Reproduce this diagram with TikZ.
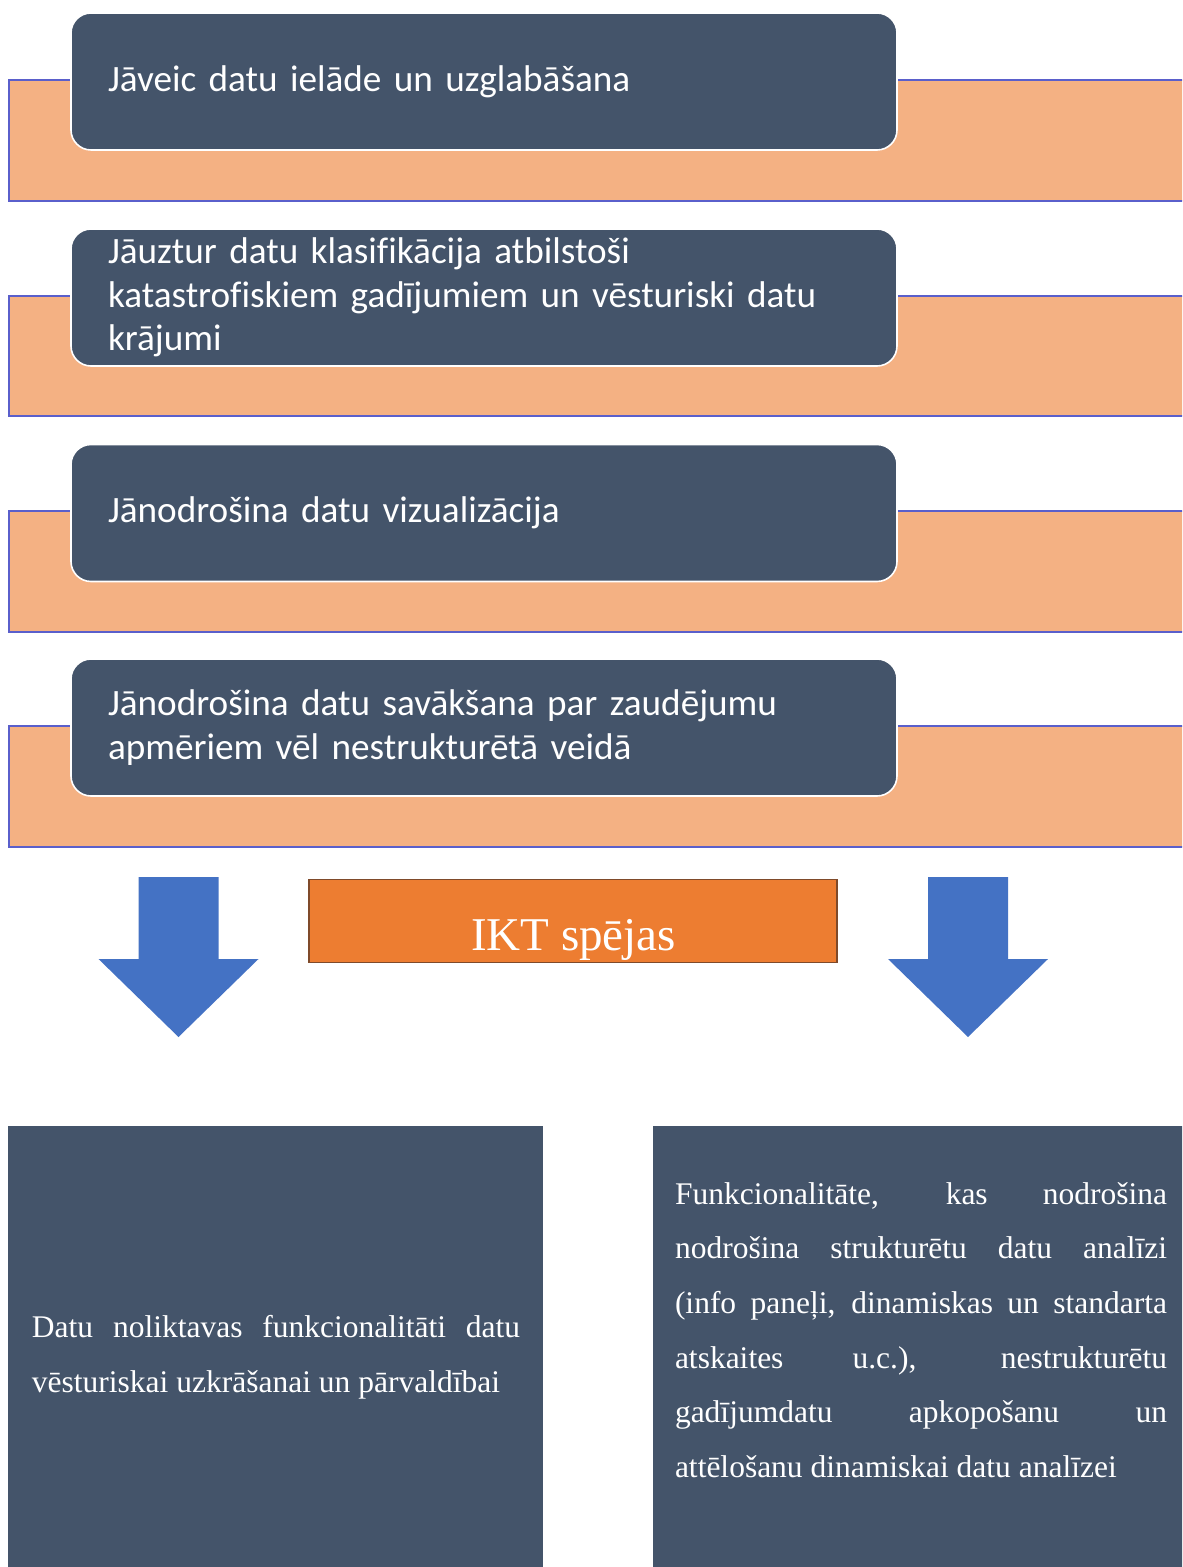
\documentclass[tikz,border=0pt]{standalone}
\usepackage{fontspec}
\setmainfont{Liberation Serif}
\newfontfamily\stepfont[Ligatures=CommonOff]{Carlito}
\usetikzlibrary{positioning}

\hyphenpenalty=10000
\exhyphenpenalty=10000

\definecolor{slate}{HTML}{44546A}
\definecolor{peach}{HTML}{F4B183}
\definecolor{bandedge}{HTML}{5A5FCB}
\definecolor{arrowblue}{HTML}{4472C4}
\definecolor{iktorange}{HTML}{ED7D31}
\definecolor{iktedge}{HTML}{7F4A2A}

\tikzset{
	band/.style={fill=peach, draw=bandedge, line width=1pt},
	stepbox/.style={fill=slate, draw=white, line width=0.8pt, rounded corners=10pt,
		text=white, font=\stepfont\fontsize{18.6}{21.8}\selectfont, align=left,
		text width=376pt, inner xsep=18.5pt, inner ysep=0pt, minimum height=68.5pt},
	downarrow/.style={fill=arrowblue},
	outbox/.style={fill=slate, anchor=north west, inner sep=0pt, minimum height=220.5pt},
	outtext/.style={text=white, font=\fontsize{15.75}{27.3}\selectfont, align=justify, inner sep=0pt}
}

\begin{document}
\begin{tikzpicture}[x=0.5pt, y=-0.5pt]
	\useasboundingbox (0,0) rectangle (1182,1567);
	\clip (0,0) rectangle (1182,1567);

	% orange bands behind the steps
	\draw[band] (9,80) rectangle (1200,201);
	\draw[band] (9,296) rectangle (1200,416);
	\draw[band] (9,511) rectangle (1200,632);
	\draw[band] (9,726) rectangle (1200,847);

	\node[stepbox] (load) at (484,81.5) {Jāveic datu ielāde un uzglabāšana};
	\node[stepbox] (classify) at (484,297.5) {Jāuztur datu klasifikācija atbilstoši\\katastrofiskiem gadījumiem un vēsturiski datu\\krājumi};
	\node[stepbox] (visual) at (484,513) {Jānodrošina datu vizualizācija};
	\node[stepbox] (collect) at (484,727.5) {Jānodrošina datu savākšana par zaudējumu\\apmēriem vēl nestrukturētā veidā};

	% down arrows
	\foreach \ax in {178.5,968} {
		\fill[downarrow] (\ax-40,877) -- (\ax+40,877) -- (\ax+40,959) -- (\ax+80,959)
			-- (\ax,1037) -- (\ax-80,959) -- (\ax-40,959) -- cycle;
	}

	\node[fill=iktorange, draw=iktedge, line width=0.8pt, minimum width=264pt, minimum height=41.5pt] (ikt) at (573,921) {};
	\node[anchor=base, text=white, font=\fontsize{23.5}{28}\selectfont, inner sep=0pt] (iktlabel) at (573.5,950) {IKT spējas};

	\node[outbox, minimum width=267.5pt] (warehouse) at (8,1126) {};
	\node[outbox, minimum width=270pt] (analysis) at (653,1126) {};

	\node[outtext, text width=244pt] (warehousetxt) at (276,1357) {Datu noliktavas funkcionalitāti datu\linebreak vēsturiskai uzkrāšanai un pārvaldībai};
	\node[outtext, text width=246pt] (analysistxt) at (921,1330) {Funkcionalitāte, kas nodrošina\linebreak nodrošina strukturētu datu analīzi\linebreak (info paneļi, dinamiskas un standarta\linebreak atskaites u.c.), nestrukturētu\linebreak gadījumdatu apkopošanu un\linebreak attēlošanu dinamiskai datu analīzei};
\end{tikzpicture}
\end{document}
